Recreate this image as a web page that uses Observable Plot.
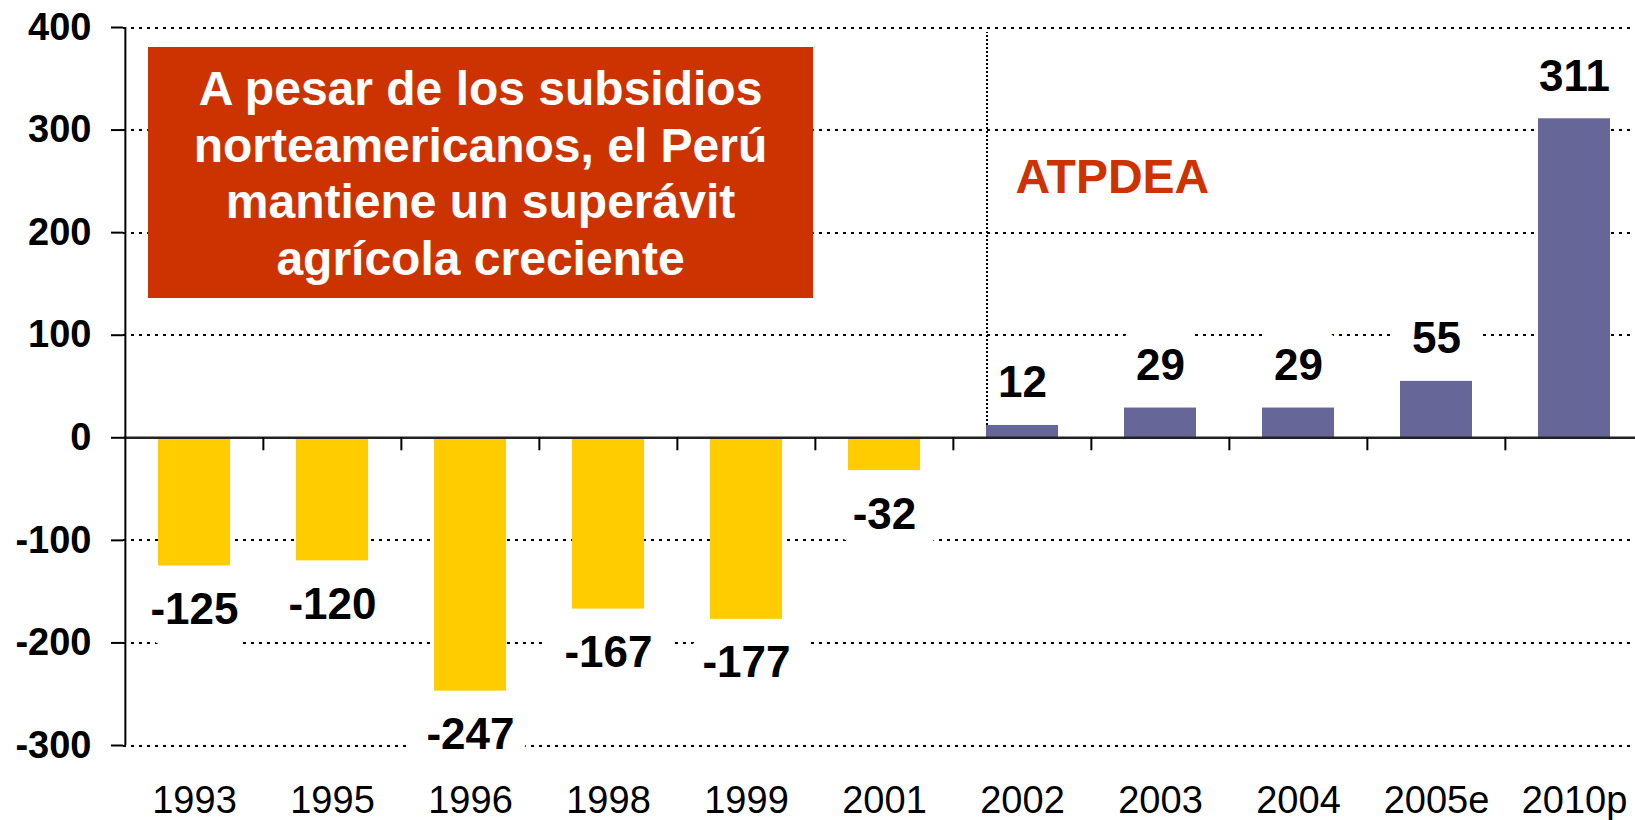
<!DOCTYPE html>
<html>
<head>
<meta charset="utf-8">
<script src="https://cdn.jsdelivr.net/npm/d3@7"></script>
<script src="https://cdn.jsdelivr.net/npm/@observablehq/plot@0.6"></script>
<style>
  html, body { margin: 0; padding: 0; background: #fff; overflow: hidden; }
  #wrap { position: relative; width: 1635px; height: 820px; overflow: hidden; }
  #wrap svg { max-width: none !important; display: block; }
  #note {
    position: absolute; left: 148px; top: 47px; width: 665px; height: 251px;
    box-sizing: border-box; padding-top: 14px;
    background: #CC3300; color: #fff;
    font-family: "Liberation Sans", Arial, sans-serif; font-weight: bold;
    font-size: 48px; line-height: 56.5px; text-align: center;
  }
</style>
</head>
<body>
<div id="wrap">
  <div id="note">A pesar de los subsidios<br>norteamericanos, el Perú<br>mantiene un superávit<br>agrícola creciente</div>
</div>
<script>
// ---- data ----
const years  = ["1993","1995","1996","1998","1999","2001","2002","2003","2004","2005e","2010p"];
const values = [-125, -120, -247, -167, -177, -32, 12, 29, 29, 55, 311];
const yTicks = [-300, -200, -100, 0, 100, 200, 300, 400];
const noteLabel = "ATPDEA";
const noteYear = "2002";
const noteY = 238.5;        // baseline of ATPDEA label (value units)
const dividerTop = 395;     // top of the dotted divider (value units)

const data = years.map((year, i) => ({year, value: values[i]}));

// ---- layout ----
const W = 1645, H = 820, mL = 123, mR = 1, mT = 27, mB = 75;
const bw = (W - mL - mR) / years.length;
const barInset = 33;
const pxPerUnit = (H - mT - mB) / 700;
const tickLen = 13 / pxPerUnit;
const font = "Liberation Sans, Arial, sans-serif";
const yellow = "#FFCC00", blue = "#666699", red = "#CC3300";

const chart = Plot.plot({
  width: W, height: H,
  marginLeft: mL, marginRight: mR, marginTop: mT, marginBottom: mB,
  style: {fontFamily: font, maxWidth: "none", background: "#fff", color: "#000"},
  x: {domain: years, padding: 0, label: null},
  y: {domain: [-300, 400], label: null},
  color: {type: "identity"},
  marks: [
    Plot.ruleY(yTicks.filter(t => t !== 0), {stroke: "#000", strokeWidth: 2, strokeDasharray: "3,5", shapeRendering: "crispEdges"}),
    Plot.barY(data, {x: "year", y: "value", fill: d => d.value < 0 ? yellow : blue, insetLeft: barInset, insetRight: barInset}),
    Plot.text(data.filter(d => d.value >= 0), {
      x: "year", y: "value", text: d => String(d.value), dy: -28, lineAnchor: "bottom",
      fontSize: 44, fontWeight: "bold", fill: "#000", stroke: "#fff", strokeWidth: 44, strokeLinejoin: "round"
    }),
    Plot.text(data.filter(d => d.value < 0), {
      x: "year", y: "value", text: d => String(d.value), dy: 58, lineAnchor: "bottom",
      fontSize: 44, fontWeight: "bold", fill: "#000", stroke: "#fff", strokeWidth: 44, strokeLinejoin: "round"
    }),
    Plot.text([noteLabel], {
      x: () => noteYear, y: () => noteY, text: d => d, textAnchor: "start", lineAnchor: "bottom", dx: -7,
      fontSize: 48, fontWeight: "bold", fill: red
    }),
    Plot.ruleX([noteYear], {
      x: d => d, dx: -(bw / 2 - barInset) + 0.4,
      y1: () => values[years.indexOf(noteYear)], y2: () => dividerTop,
      stroke: "#000", strokeWidth: 2, strokeDasharray: "2,2", shapeRendering: "crispEdges"
    }),
    Plot.ruleY([0], {stroke: "#222", strokeWidth: 2.5}),
    Plot.ruleX(years.slice(1), {x: d => d, dx: -bw / 2, y1: () => 0, y2: () => -tickLen, stroke: "#000", strokeWidth: 2}),
    Plot.ruleX([years[0]], {x: d => d, dx: -bw / 2, y1: () => -300, y2: () => 400, stroke: "#000", strokeWidth: 2}),
    Plot.axisY({
      ticks: yTicks, tickSize: 12, tickPadding: 20, tickFormat: d => String(d),
      fontSize: 38, fontWeight: "bold", fill: "#000", stroke: "#000", strokeWidth: 2, label: null
    }),
    Plot.axisX({
      anchor: "bottom", tickSize: 0, tickPadding: 41, fontSize: 38, fill: "#000", label: null
    })
  ]
});
document.getElementById("wrap").prepend(chart);
</script>
</body>
</html>
